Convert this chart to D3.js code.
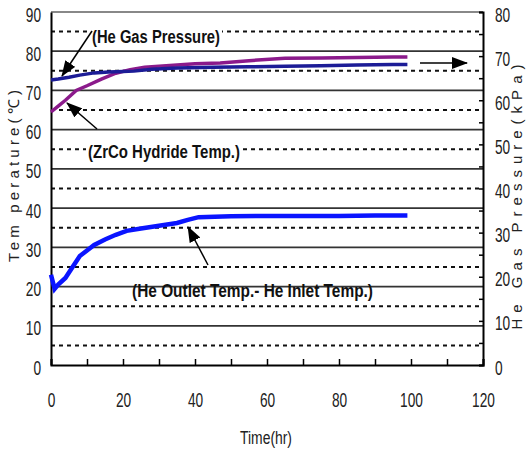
<!DOCTYPE html>
<html>
<head>
<meta charset="utf-8">
<script src="https://cdn.jsdelivr.net/npm/d3@7"></script>
<style>
  body { margin: 0; background: #fff; }
  svg { display: block; }
</style>
</head>
<body>
<script>
// Time (hr) readings for each curve
const pressTime = [0, 2, 5, 8, 12, 16, 20, 23, 28, 35, 45, 55, 65, 75, 85, 95, 99];
const pressVal = [64.6, 64.8, 65.2, 65.7, 66.2, 66.4, 66.5, 66.6, 67.0, 67.3, 67.5, 67.6, 67.7, 67.8, 68.0, 68.1, 68.1];

const zrcoTime = [0, 2, 4, 7, 10, 14, 18, 22, 26, 30, 35, 40, 47, 55, 65, 75, 85, 95, 99];
const zrcoVal = [64.5, 66, 67.5, 70, 71.2, 72.9, 74.4, 75.3, 75.9, 76.2, 76.5, 76.8, 77, 77.6, 78.2, 78.3, 78.4, 78.5, 78.5];

const diffTime = [0, 1, 2, 4, 6, 8, 10, 12, 15, 18, 21, 25, 30, 35, 38, 41, 50, 60, 70, 80, 90, 99];
const diffVal = [23, 19.4, 20.5, 22.2, 25, 27.8, 29.2, 30.6, 32, 33.2, 34.2, 34.8, 35.5, 36.2, 37, 37.7, 37.9, 38, 38, 38, 38.1, 38.1];

// tick labels
const xTicks = [0, 20, 40, 60, 80, 100, 120];
const yLeftTicks = [0, 10, 20, 30, 40, 50, 60, 70, 80, 90];
const yRightTicks = [0, 10, 20, 30, 40, 50, 60, 70, 80];

const w = 526, h = 453;
const margin = { top: 12, right: 43, bottom: 88, left: 51 };
const innerWidth = w - margin.left - margin.right;
const innerHeight = h - margin.top - margin.bottom;

const svg = d3.select("body").append("svg")
    .attr("width", w)
    .attr("height", h);

const defs = svg.append("defs");
defs.append("marker")
    .attr("id", "head")
    .attr("viewBox", "0 0 16 12")
    .attr("refX", 15)
    .attr("refY", 6)
    .attr("markerWidth", 16)
    .attr("markerHeight", 12)
    .attr("markerUnits", "userSpaceOnUse")
    .attr("orient", "auto")
    .append("path")
    .attr("d", "M0,0 L16,6 L0,12 Z")
    .attr("fill", "#000");

const xScale = d3.scaleLinear().domain([0, 120]).range([0, innerWidth]);
const yLeft = d3.scaleLinear().domain([0, 90]).range([innerHeight, 0]);
const yRight = d3.scaleLinear().domain([0, 80]).range([innerHeight, 0]);

const g = svg.append("g")
    .attr("transform", `translate(${margin.left},${margin.top})`);

const font = "'Liberation Sans', Arial, sans-serif";

// grid lines: solid every 10, dashed at the 5s
g.selectAll(".solid")
    .data(d3.range(10, 91, 10))
    .enter().append("line")
    .attr("x1", 0).attr("x2", innerWidth)
    .attr("y1", d => yLeft(d)).attr("y2", d => yLeft(d))
    .attr("stroke", d => d == 90 ? "#888" : "#333")
    .attr("stroke-width", 1.8);

g.selectAll(".dash")
    .data(d3.range(5, 90, 10))
    .enter().append("line")
    .attr("x1", 0).attr("x2", innerWidth)
    .attr("y1", d => yLeft(d)).attr("y2", d => yLeft(d))
    .attr("stroke", "#111")
    .attr("stroke-width", 2)
    .attr("stroke-dasharray", "4,4");

// axes
const xAxisG = g.append("g")
    .attr("transform", `translate(0,${innerHeight})`)
    .call(d3.axisBottom(xScale).tickValues(d3.range(0, 121, 10))
        .tickSize(-6).tickPadding(28)
        .tickFormat(d => xTicks.includes(d) ? d : ""));

const yLeftG = g.append("g")
    .call(d3.axisLeft(yLeft).tickValues(yLeftTicks).tickSize(0).tickPadding(10));

const yRightG = g.append("g")
    .attr("transform", `translate(${innerWidth},0)`)
    .call(d3.axisRight(yRight).tickValues(d3.range(0, 81, 5))
        .tickSize(-4).tickPadding(12)
        .tickFormat(d => yRightTicks.includes(d) ? d : ""));

[xAxisG, yLeftG, yRightG].forEach(a => {
    a.select(".domain").attr("stroke", "#000").attr("stroke-width", 2);
    a.selectAll(".tick line").attr("stroke", "#000").attr("stroke-width", 1.5);
    // minor ticks carry no label
    a.selectAll(".tick text")
        .filter(function () { return this.textContent.length == 0; })
        .remove();
    a.selectAll("text")
        .attr("font-family", font)
        .attr("font-size", 20)
        .attr("fill", "#222")
        // narrow digits like the original
        .attr("textLength", function () { return this.textContent.length * 7.6; })
        .attr("lengthAdjust", "spacingAndGlyphs");
});
yLeftG.selectAll("text").attr("dy", "0.45em");
yRightG.selectAll("text").attr("dy", "0.45em");

// lines
const lineL = (ts, vs) => d3.line()
    .x((d, i) => xScale(ts[i]))
    .y(d => yLeft(d))(vs);
const lineR = (ts, vs) => d3.line()
    .x((d, i) => xScale(ts[i]))
    .y(d => yRight(d))(vs);

g.append("path")
    .attr("d", lineL(zrcoTime, zrcoVal))
    .attr("fill", "none")
    .attr("stroke", "#8b1a8b")
    .attr("stroke-width", 3.5);

g.append("path")
    .attr("d", lineR(pressTime, pressVal))
    .attr("fill", "none")
    .attr("stroke", "#1c1c96")
    .attr("stroke-width", 3.5);

g.append("path")
    .attr("d", lineL(diffTime, diffVal))
    .attr("fill", "none")
    .attr("stroke", "#0a14ff")
    .attr("stroke-width", 4.5);

// annotations
function note(txt, x, y, len, bg) {
    const gr = svg.append("g");
    const r = gr.append("rect").attr("fill", "#fff");
    const t = gr.append("text")
        .text(txt)
        .attr("x", x).attr("y", y)
        .attr("font-family", font)
        .attr("font-weight", "bold")
        .attr("font-size", 18)
        .attr("textLength", len)
        .attr("lengthAdjust", "spacingAndGlyphs")
        .attr("fill", "#111");
    if (bg) {
        const b = t.node().getBBox();
        r.attr("x", b.x - 2).attr("y", b.y + 2)
            .attr("width", b.width + 4).attr("height", b.height - 3);
    } else {
        r.remove();
    }
}
note("(He Gas Pressure)", 92, 43, 128, true);
note("(ZrCo Hydride Temp.)", 88, 158, 152, true);
note("(He Outlet Temp.- He Inlet Temp.)", 132, 297, 241, false);

function arrow(x1, y1, x2, y2) {
    svg.append("line")
        .attr("x1", x1).attr("y1", y1)
        .attr("x2", x2).attr("y2", y2)
        .attr("stroke", "#000")
        .attr("stroke-width", 1.5)
        .attr("marker-end", "url(#head)");
}
arrow(92, 31, 62, 76);
arrow(97, 129, 67, 103);
arrow(420, 63, 467, 63);
arrow(208, 265, 188, 227);

// axis titles
svg.append("text")
    .text("Tem perature(\u2103)")
    .attr("transform", "translate(19,176) rotate(-90)")
    .attr("text-anchor", "middle")
    .attr("font-family", font)
    .attr("font-size", 15)
    .attr("textLength", 172)
    .attr("lengthAdjust", "spacing")
    .attr("fill", "#222");

svg.append("text")
    .text("He Gas Pressure(kPa)")
    .attr("transform", "translate(522,197) rotate(-90)")
    .attr("text-anchor", "middle")
    .attr("font-family", font)
    .attr("font-size", 15)
    .attr("textLength", 265)
    .attr("lengthAdjust", "spacing")
    .attr("fill", "#222");

svg.append("text")
    .text("Time(hr)")
    .attr("x", 240).attr("y", 444)
    .attr("font-family", font)
    .attr("font-size", 18)
    .attr("textLength", 52)
    .attr("lengthAdjust", "spacingAndGlyphs")
    .attr("fill", "#222");
</script>
</body>
</html>
